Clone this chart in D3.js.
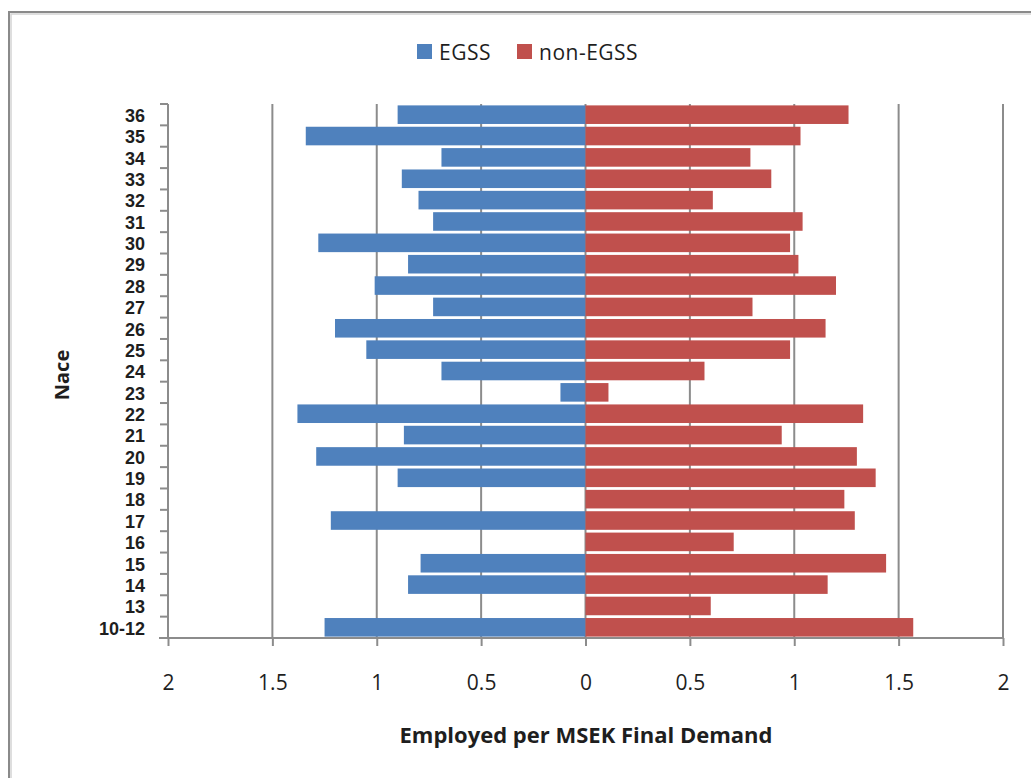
<!DOCTYPE html>
<html>
<head>
<meta charset="utf-8">
<script src="https://cdn.jsdelivr.net/npm/d3@7"></script>
<style>
  html, body { margin: 0; padding: 0; background: #fff; }
  svg { display: block; font-family: "Open Sans", "Noto Sans", sans-serif; }
</style>
</head>
<body>
<svg id="chart" width="1031" height="778"></svg>
<script>
// NACE industry codes, top to bottom
const categories = ["36","35","34","33","32","31","30","29","28","27","26","25","24",
                    "23","22","21","20","19","18","17","16","15","14","13","10-12"];
// Employed per MSEK final demand (EGSS drawn to the left of zero)
const egss    = [0.90,1.34,0.69,0.88,0.80,0.73,1.28,0.85,1.01,0.73,1.20,1.05,0.69,
                 0.12,1.38,0.87,1.29,0.90,0,1.22,0,0.79,0.85,0,1.25];
const nonEgss = [1.26,1.03,0.79,0.89,0.61,1.04,0.98,1.02,1.20,0.80,1.15,0.98,0.57,
                 0.11,1.33,0.94,1.30,1.39,1.24,1.29,0.71,1.44,1.16,0.60,1.57];
const xTicks = [-2,-1.5,-1,-0.5,0,0.5,1,1.5,2];
const seriesNames = ["EGSS","non-EGSS"];
const colors = ["#4F81BD","#C0504D"];
const gridColor = "#8c8c8c";
const textColor = "#1e1e1e";

const svg = d3.select("#chart");

// chart frame
svg.append("rect").attr("x", 9).attr("y", 12).attr("width", 1100).attr("height", 1000)
  .attr("fill", "none").attr("stroke", "#8a8a8a").attr("stroke-width", 2);
svg.append("rect").attr("x", 11).attr("y", 14).attr("width", 1100).attr("height", 1000)
  .attr("fill", "none").attr("stroke", "#d4d4d4").attr("stroke-width", 1.5);

const plotL = 168, plotR = 1003, plotT = 104, plotB = 638;

const x = d3.scaleLinear().domain([-2, 2]).range([plotL, plotR]);
const y = d3.scaleBand().domain(categories).range([plotT, plotB])
  .paddingInner(0.13).paddingOuter(0.065);
const yEdge = d3.scaleLinear().domain([0, categories.length]).range([plotT, plotB]);

// vertical gridlines
svg.append("g").selectAll("line")
  .data(xTicks.filter(d => d !== -2))
  .join("line")
  .attr("x1", d => x(d)).attr("x2", d => x(d))
  .attr("y1", plotT).attr("y2", plotB)
  .attr("stroke", gridColor).attr("stroke-width", 2);

// bars
const rows = categories.map((c, i) => ({ c, e: egss[i], n: nonEgss[i] }));
svg.append("g").selectAll("rect")
  .data(rows.filter(d => d.e > 0))
  .join("rect")
  .attr("x", d => x(-d.e)).attr("width", d => x(0) - x(-d.e))
  .attr("y", d => y(d.c)).attr("height", y.bandwidth())
  .attr("fill", colors[0]);
svg.append("g").selectAll("rect")
  .data(rows.filter(d => d.n > 0))
  .join("rect")
  .attr("x", x(0)).attr("width", d => x(d.n) - x(0))
  .attr("y", d => y(d.c)).attr("height", y.bandwidth())
  .attr("fill", colors[1]);

// y axis: line, boundary ticks, labels
const yAxis = svg.append("g");
yAxis.append("line").attr("x1", plotL).attr("x2", plotL).attr("y1", plotT).attr("y2", plotB + 1)
  .attr("stroke", gridColor).attr("stroke-width", 2);
yAxis.selectAll("line.tk")
  .data(d3.range(categories.length + 1))
  .join("line").attr("class", "tk")
  .attr("x1", plotL - 8).attr("x2", plotL)
  .attr("y1", d => yEdge(d)).attr("y2", d => yEdge(d))
  .attr("stroke", gridColor).attr("stroke-width", 2);
svg.append("g")
  .attr("transform", `translate(${plotL - 23},1.5)`)
  .call(d3.axisLeft(y).tickSize(0).tickPadding(0))
  .call(g => g.select(".domain").remove())
  .call(g => g.selectAll("text")
    .attr("font-family", "'Liberation Sans', Arial, sans-serif")
    .attr("font-size", 18).attr("font-weight", "bold").attr("fill", textColor));

// x axis
svg.append("g")
  .attr("transform", `translate(0,${plotB})`)
  .call(d3.axisBottom(x).tickValues(xTicks).tickSize(8).tickPadding(29)
    .tickFormat(d => d3.format("")(Math.abs(d))))
  .call(g => g.select(".domain").attr("stroke", gridColor).attr("stroke-width", 2)
    .attr("d", `M${plotL - 9},0H${plotR + 1}`))
  .call(g => g.selectAll(".tick line").attr("stroke", gridColor).attr("stroke-width", 2))
  .call(g => g.selectAll("text")
    .attr("font-family", "'Open Sans', sans-serif")
    .attr("font-size", 21).attr("fill", textColor));

// axis titles
svg.append("text")
  .attr("transform", "translate(69,375) rotate(-90)")
  .attr("text-anchor", "middle")
  .attr("font-size", 20).attr("font-weight", "bold").attr("fill", textColor)
  .text("Nace");
svg.append("text")
  .attr("x", 586).attr("y", 743)
  .attr("text-anchor", "middle")
  .attr("font-size", 22).attr("font-weight", "bold").attr("fill", textColor)
  .text("Employed per MSEK Final Demand");

// legend
const legendX = [417, 517];
const legend = svg.append("g");
seriesNames.forEach((name, i) => {
  legend.append("rect").attr("x", legendX[i]).attr("y", 44)
    .attr("width", 15).attr("height", 15).attr("fill", colors[i]);
  legend.append("text").attr("x", legendX[i] + 22).attr("y", 60)
    .attr("font-size", 21).attr("letter-spacing", 0.5).attr("fill", textColor).text(name);
});
</script>
</body>
</html>
